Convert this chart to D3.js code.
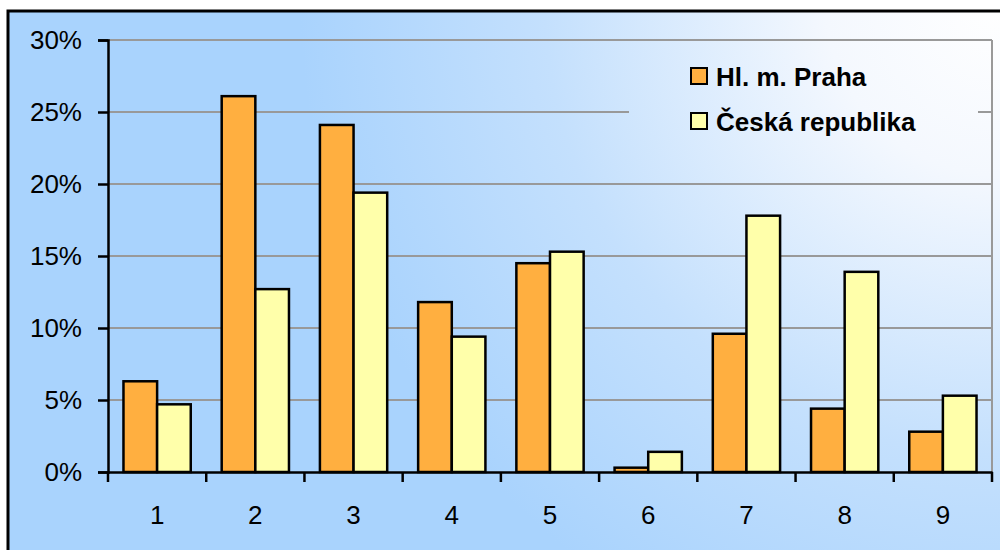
<!DOCTYPE html>
<html><head><meta charset="utf-8">
<script src="https://cdn.jsdelivr.net/npm/d3@7"></script>
<style>body{margin:0;background:#fff;}svg{display:block;font-family:"Liberation Sans",Arial,sans-serif;}</style>
</head><body>
<svg id="c" width="1000" height="550"></svg>
<script>
const categories = ["1","2","3","4","5","6","7","8","9"];
const seriesNames = ["Hl. m. Praha","Česká republika"];
const praha = [6.3,26.1,24.1,11.8,14.5,0.3,9.6,4.4,2.8];
const cr = [4.7,12.7,19.4,9.4,15.3,1.4,17.8,13.9,5.3];
const yTicks = [0,5,10,15,20,25,30];
const colors = ["#FFAF40","#FFFFAA"];

const svg = d3.select("#c");
const defs = svg.append("defs");
const g = defs.append("radialGradient").attr("id","bg").attr("gradientUnits","userSpaceOnUse")
  .attr("cx",1000).attr("cy",0).attr("r",700);
g.append("stop").attr("offset","0").attr("stop-color","#ffffff");
g.append("stop").attr("offset","0.25").attr("stop-color","#f4f8fe");
g.append("stop").attr("offset","0.65").attr("stop-color","#c4e0fd");
g.append("stop").attr("offset","1").attr("stop-color","#a9d3fd");

svg.append("rect").attr("x",8).attr("y",11).attr("width",1000).attr("height",560)
  .attr("fill","url(#bg)").attr("stroke","#000").attr("stroke-width",3);

const L=108,R=992,T=40,B=472;
const x = d3.scaleBand().domain(categories).range([L,R]);
const y = d3.scaleLinear().domain([0,30]).range([B,T]);
const xs = d3.scaleBand().domain([0,1]).range([0,x.bandwidth()]).paddingInner(0).paddingOuter(0.46);

// gridlines
svg.append("g").selectAll("line").data(yTicks.filter(d=>d>0)).join("line")
  .attr("x1",L).attr("x2",R).attr("y1",d=>y(d)).attr("y2",d=>y(d))
  .attr("stroke","#999").attr("stroke-width",2);
svg.append("line").attr("x1",R).attr("x2",R).attr("y1",T).attr("y2",B).attr("stroke","#999").attr("stroke-width",2);

// legend background (covers gridline)
svg.append("rect").attr("x",629).attr("y",52).attr("width",349).attr("height",96).attr("fill","url(#bg)");

// bars
const data = [praha, cr];
const gb = svg.append("g");
categories.forEach((c,i)=>{
  [0,1].forEach(s=>{
    gb.append("rect").attr("x",x(c)+xs(s)).attr("y",y(data[s][i]))
      .attr("width",xs.bandwidth()).attr("height",B-y(data[s][i]))
      .attr("fill",colors[s]).attr("stroke","#000").attr("stroke-width",2.5);
  });
});

// axes
const ya = svg.append("g").attr("transform",`translate(${L},0)`)
  .call(d3.axisLeft(y).tickValues(yTicks).tickFormat(d=>d+"%").tickSize(10).tickPadding(16));
const xa = svg.append("g").attr("transform",`translate(0,${B})`)
  .call(d3.axisBottom(x).tickSize(0).tickPadding(34));
[ya,xa].forEach(a=>{
  a.select(".domain").attr("stroke","#000").attr("stroke-width",2.5);
  a.selectAll(".tick line").attr("stroke","#000").attr("stroke-width",2.5);
  a.selectAll("text").attr("font-size",26).attr("fill","#000").attr("font-family","Liberation Sans, Arial, sans-serif");
});
// x ticks at band boundaries
svg.append("g").selectAll("line").data(categories.map(c=>x(c)).concat([R])).join("line")
  .attr("x1",d=>d).attr("x2",d=>d).attr("y1",B).attr("y2",B+10).attr("stroke","#000").attr("stroke-width",2.5);

// legend
const lg = svg.append("g");
seriesNames.forEach((n,i)=>{
  lg.append("rect").attr("x",691).attr("y",68+i*45).attr("width",16).attr("height",16)
    .attr("fill",colors[i]).attr("stroke","#000").attr("stroke-width",2);
  lg.append("text").attr("x",716).attr("y",86+i*45).text(n)
    .attr("font-size",26).attr("font-weight","bold").attr("fill","#000");
});
</script>
</body></html>
